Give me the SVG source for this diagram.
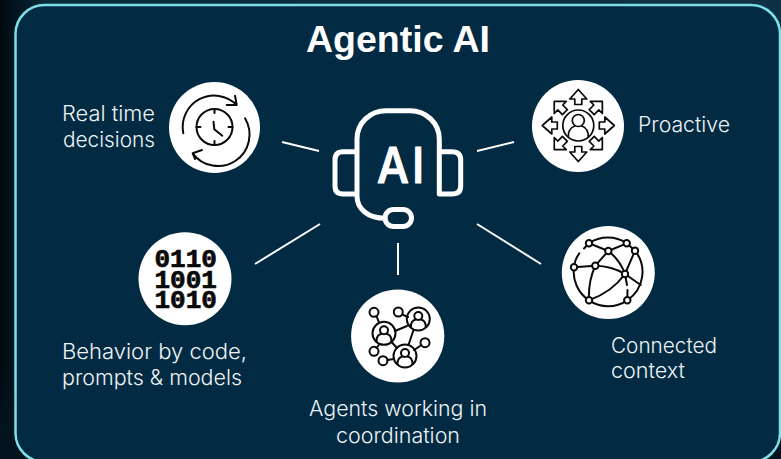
<svg xmlns="http://www.w3.org/2000/svg" width="781" height="459" viewBox="0 0 781 459">
<defs>
<linearGradient id="bg" x1="0" y1="0" x2="1" y2="0"><stop offset="0" stop-color="#010a10"/><stop offset="0.02" stop-color="#03141e"/><stop offset="0.06" stop-color="#0b2a3a"/><stop offset="1" stop-color="#0e3244"/></linearGradient>
<linearGradient id="shade" x1="0" y1="0" x2="0" y2="1"><stop offset="0.8" stop-color="#03141f" stop-opacity="0"/><stop offset="0.95" stop-color="#03141f"/></linearGradient>
<path id="arrow" d="M0,-36 L8.5,-26.5 L3.5,-26.5 L3.5,-21 L-3.5,-21 L-3.5,-26.5 L-8.5,-26.5 Z"/>
<path id="arrow-d" d="M0,-34 L8.5,-25.5 L3.5,-25.5 L3.5,-19 L-3.5,-19 L-3.5,-25.5 L-8.5,-25.5 Z"/>
<g id="person"><circle cx="0" cy="-3" r="4"/><path d="M-7.5,8 C-7.5,3 -5,1 -2.5,0.5 M7.5,8 C7.5,3 5,1 2.5,0.5"/><circle cx="0" cy="0" r="11.5"/></g>
</defs>
<style>
.label{font-family:"Inter","Liberation Sans",sans-serif;font-size:21px;font-weight:300;fill:#eef3f5}
.disc{fill:#fff}
.ink{fill:none;stroke:#0a0a0a;stroke-width:2;stroke-linecap:round;stroke-linejoin:round}
.dot{fill:#fff;stroke:#0a0a0a;stroke-width:2}
.conn{stroke:#fff;stroke-width:2;fill:none}
.hs{fill:none;stroke:#fff;stroke-width:5;stroke-linecap:round;stroke-linejoin:round}
</style>
<rect width="781" height="459" fill="url(#bg)"/>
<rect width="781" height="459" fill="url(#shade)"/>
<rect id="panel" x="15.5" y="5" width="764.5" height="457" rx="29" fill="#022b43" stroke="#7fdde8" stroke-width="2.5"/>
<text id="title" x="306" y="52" textLength="184" lengthAdjust="spacingAndGlyphs" font-family="'Liberation Sans',Arial,sans-serif" font-size="37" font-weight="700" fill="#fff">Agentic AI</text>
<g id="connectors">
<line class="conn" x1="282" y1="142" x2="319" y2="151"/>
<line class="conn" x1="477" y1="151" x2="514" y2="142"/>
<line class="conn" x1="320" y1="224" x2="255" y2="264"/>
<line class="conn" x1="398" y1="243" x2="398" y2="275"/>
<line class="conn" x1="477" y1="224" x2="541" y2="264"/>
</g>
<g id="node-ai">
<path class="hs" d="M357,152 L357,196 C357,209 368,218.3 385,218.3 M357,152 L357,139 C357,123 370,110.7 386,110.7 L410,110.7 C426,110.7 439.3,123 439.3,139 L439.3,194 L452,194 Q460.7,194 460.7,186 L460.7,160 Q460.7,151.7 452,151.7 L439.3,151.7 M357,151.7 L343,151.7 Q335,151.7 335,160 L335,186 Q335,194 343,194 L357,194"/>
<rect class="hs" x="385" y="209.5" width="26.5" height="17" rx="8.5"/>
<text transform="translate(377,183) scale(0.9,1)" x="0 39" y="0" font-family="'Inter','Liberation Sans',sans-serif" font-size="50" font-weight="500" fill="#fff" stroke="#fff" stroke-width="1.2" stroke-linejoin="round">AI</text>
</g>
<g id="node-realtime">
<circle class="disc" cx="214.5" cy="127.5" r="45.5"/>
<circle class="ink" cx="214.5" cy="127" r="18"/>
<path class="ink" d="M213.5,121.7 L214.3,129.3 L222.3,135.7 M214.5,109 V113 M214.5,141 V145 M196.5,127 H200.5 M228.5,127 H232.5"/>
<path class="ink" d="M183.3,133.3 A31.5,31.5 0 0 1 236.7,105 M235,95.7 L236.7,105 L226.7,105"/>
<path class="ink" d="M245,118.3 A31.5,31.5 0 0 1 192.7,153.3 M202,150 L192.7,153.3 L195,159"/>
<text class="label" x="62" y="120.5" textLength="93" lengthAdjust="spacingAndGlyphs">Real time</text>
<text class="label" x="63" y="146.5" textLength="92" lengthAdjust="spacingAndGlyphs">decisions</text>
</g>
<g id="node-proactive">
<circle class="disc" cx="578" cy="126" r="46"/>
<g transform="translate(578.3,125.5)" class="ink" style="stroke-width:1.7">
<circle r="15.5"/><circle cx="0" cy="-5" r="6"/>
<path d="M-10,11 C-10,4 -7,2 -3.5,0.5 M10,11 C10,4 7,2 3.5,0.5"/>
<use href="#arrow"/>
<use href="#arrow-d" transform="rotate(45)"/>
<use href="#arrow" transform="rotate(90)"/>
<use href="#arrow-d" transform="rotate(135)"/>
<use href="#arrow" transform="rotate(180)"/>
<use href="#arrow-d" transform="rotate(225)"/>
<use href="#arrow" transform="rotate(270)"/>
<use href="#arrow-d" transform="rotate(315)"/>
</g>
<text class="label" x="638" y="132" textLength="92" lengthAdjust="spacingAndGlyphs">Proactive</text>
</g>
<g id="node-connected">
<circle class="disc" cx="608.3" cy="272.5" r="46.5"/>
<path class="ink" d="M589,243.3 A34,34 0 0 1 626.7,243.3 L635,250.7 A34,34 0 0 1 627.3,300.3 A34,34 0 0 1 589,300.3 A34,34 0 0 1 574,267.3 Q574.5,260 579.3,253.3 M584,248.5 L589,243.3 L608.3,251 L626.7,243.3 M608.3,251 L595.3,265.7 L574,267.3 M608.3,251 Q620,260 625,274 M635,250.7 L625,274 L640.7,285 M595.3,265.7 Q612,266 625,274 M595.3,265.7 Q588,282 589,300.3 M625,274 Q612,292 589,300.3 M625,274 L627,285 M627.3,300.3 L627.5,290"/>
<g class="dot"><circle cx="589" cy="243.3" r="3.2"/><circle cx="626.7" cy="243.3" r="3.2"/><circle cx="608.3" cy="251" r="3.2"/><circle cx="635" cy="250.7" r="3.2"/><circle cx="574" cy="267.3" r="3.2"/><circle cx="595.3" cy="265.7" r="3.2"/><circle cx="625" cy="274" r="3.2"/><circle cx="589" cy="300.3" r="3.2"/><circle cx="627.3" cy="300.3" r="3.2"/></g>
<text class="label" x="611" y="352.5" textLength="106" lengthAdjust="spacingAndGlyphs">Connected</text>
<text class="label" x="611" y="377.5" textLength="74" lengthAdjust="spacingAndGlyphs">context</text>
</g>
<g id="node-agents">
<circle class="disc" cx="397.7" cy="336" r="46.6"/>
<path class="ink" d="M376.5,316 L379,322.5 M402,314.5 L408,317 M395,331 L407,326 M413.5,330 L408.5,345 M391.5,342 L397,348 M376.5,348 L379.5,344 M387.5,360 L394,359 M421.5,345 L414,350"/>
<g class="ink">
<circle cx="374" cy="312.3" r="4.5"/><circle cx="398.3" cy="312" r="4.5"/><circle cx="374" cy="351.3" r="4.5"/><circle cx="383" cy="360.7" r="4.5"/><circle cx="425" cy="342.7" r="4.5"/>
<use href="#person" x="384" y="333.3"/><use href="#person" x="418.3" y="319"/><use href="#person" x="405" y="356"/>
</g>
<text class="label" x="309" y="416" textLength="178" lengthAdjust="spacingAndGlyphs">Agents working in</text>
<text class="label" x="336" y="443" textLength="124" lengthAdjust="spacingAndGlyphs">coordination</text>
</g>
<g id="node-behavior">
<circle class="disc" cx="185" cy="278.7" r="46.5"/>
<text font-family="'Liberation Mono','DejaVu Sans Mono',monospace" font-weight="700" font-size="26" fill="#0a0a0a" stroke="#0a0a0a" stroke-width="0.7"><tspan x="154.5" y="266.5">0110</tspan><tspan x="154.5" y="287.5">1001</tspan><tspan x="154.5" y="308.3">1010</tspan></text>
<text class="label" x="62" y="359" textLength="185" lengthAdjust="spacingAndGlyphs">Behavior by code,</text>
<text class="label" x="62" y="385" textLength="180" lengthAdjust="spacingAndGlyphs">prompts &amp; models</text>
</g>
</svg>
